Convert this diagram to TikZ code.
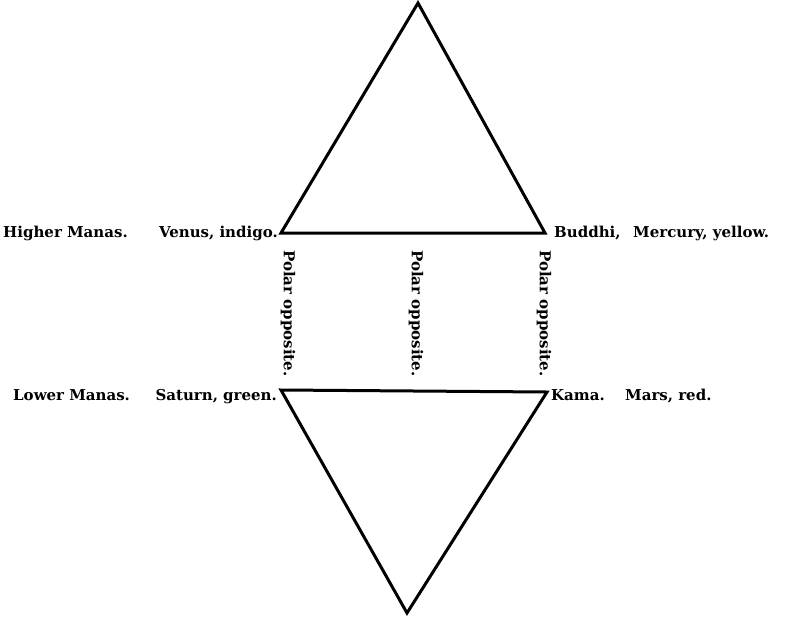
\documentclass[tikz,border=0pt]{standalone}
\usepackage{fontspec}
\setmainfont{DejaVu Serif}
\usetikzlibrary{positioning}

\begin{document}
\begin{tikzpicture}[
    x=1pt, y=-1pt,
    edge/.style={line width=3pt, line join=miter},
    tag/.style={font=\bfseries\fontsize{15}{17}\selectfont, inner sep=0pt},
    polar/.style={tag, rotate=-90, anchor=west},
  ]
  \useasboundingbox (0,0) rectangle (785,619);

  % === Corners ===
  \coordinate (apex) at (418,3);
  \coordinate (venus) at (281,233);
  \coordinate (buddhi) at (545,233);
  \coordinate (saturn) at (281,390);
  \coordinate (kama) at (547,392);
  \coordinate (foot) at (407,613);

  % === Triangles ===
  \draw[edge] (apex) -- (buddhi) -- (venus) -- cycle;
  \draw[edge] (saturn) -- (kama) -- (foot) -- cycle;

  % === Upper labels ===
  \node[tag, anchor=base west] (higher) at (3,237) {Higher Manas.};
  \node[tag, anchor=base east] (venuslbl) at (278,237) {Venus, indigo.};
  \node[tag, anchor=base west] (buddhilbl) at (554,237) {Buddhi,};
  \node[tag, anchor=base west] (mercury) at (633,237) {Mercury, yellow.};

  % === Lower labels ===
  \node[tag, anchor=base west] (lower) at (13,400) {Lower Manas.};
  \node[tag, anchor=base east] (saturnlbl) at (277,400) {Saturn, green.};
  \node[tag, anchor=base west] (kamalbl) at (551,400) {Kama.};
  \node[tag, anchor=base west] (mars) at (625,400) {Mars, red.};

  % === Polar opposites ===
  \node[polar] (polarA) at (288,250) {Polar opposite.};
  \node[polar] (polarB) at (416,250) {Polar opposite.};
  \node[polar] (polarC) at (544,250) {Polar opposite.};

\end{tikzpicture}
\end{document}
